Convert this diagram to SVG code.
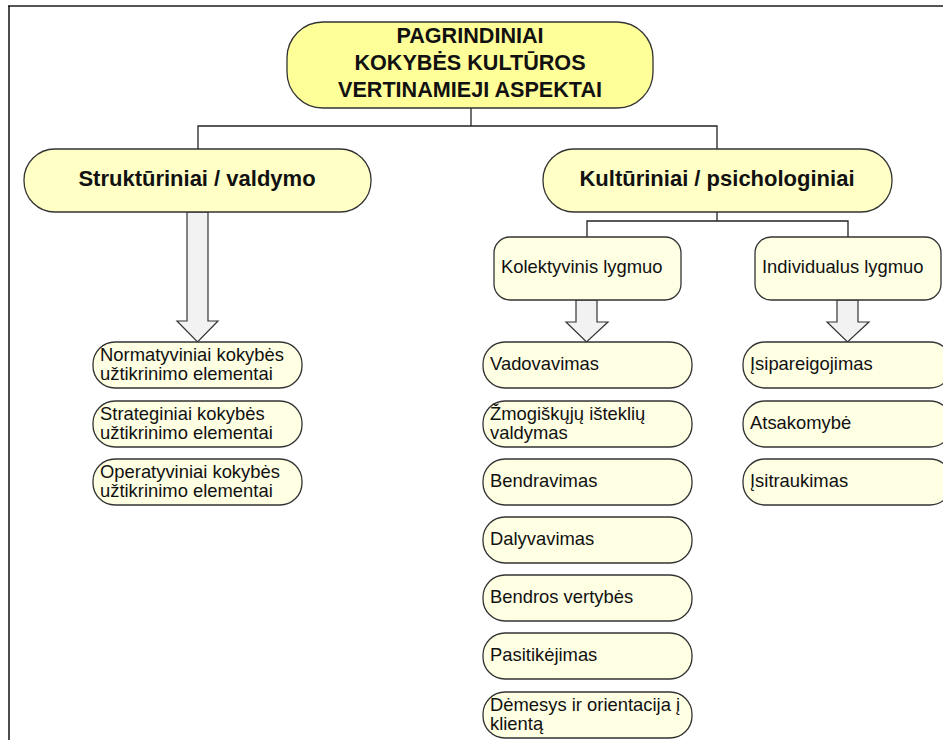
<svg xmlns="http://www.w3.org/2000/svg" width="943" height="740" viewBox="0 0 943 740">
  <style>
    .frame-top { stroke: #555555; stroke-width: 2; fill: none; }
    .frame-left { stroke: #111111; stroke-width: 1.5; fill: none; }
    .box { stroke: #333333; stroke-width: 1.3; }
    .root { fill: #FFFF99; }
    .branch { fill: #FFFFC6; }
    .leaf { fill: #FFFFE3; }
    .line { stroke: #222222; stroke-width: 1.3; fill: none; }
    .arrow { fill: #F2F2F2; stroke: #333333; stroke-width: 1.2; }
    text { font-family: "Liberation Sans", Arial, sans-serif; fill: #111111; }
    .t-root { font-size: 21.6px; font-weight: bold; text-anchor: middle; }
    .t-branch { font-size: 22px; font-weight: bold; text-anchor: middle; }
    .t-item { font-size: 18.4px; }
  </style>

  <rect width="943" height="740" fill="#ffffff"/>

  <!-- page frame -->
  <line class="frame-top" x1="8" y1="6" x2="943" y2="6"/>
  <line class="frame-left" x1="9" y1="6" x2="9" y2="740"/>

  <!-- connectors -->
  <g id="connectors">
    <polyline class="line" points="471,108 471,126"/>
    <polyline class="line" points="198,150 198,126 717,126 717,150"/>
    <polyline class="line" points="717,212 717,221"/>
    <polyline class="line" points="587,237 587,221 848,221 848,237"/>
    <polygon class="arrow" points="187,212 208,212 208,321 218,321 197.5,342 177,321 187,321"/>
    <polygon class="arrow" points="576,300 597,300 597,322 608,322 586.5,342 566,322 576,322"/>
    <polygon class="arrow" points="837,300 858,300 858,322 869,322 847.5,342 827,322 837,322"/>
  </g>

  <!-- root -->
  <g id="node-root">
    <rect class="box root" x="287" y="22" width="366" height="86" rx="36" ry="36"/>
    <text class="t-root" x="470" y="43">PAGRINDINIAI</text>
    <text class="t-root" x="470" y="70">KOKYBĖS KULTŪROS</text>
    <text class="t-root" x="470" y="97">VERTINAMIEJI ASPEKTAI</text>
  </g>

  <!-- second level -->
  <g id="node-strukturiniai">
    <rect class="box branch" x="24" y="149" width="347" height="63" rx="31" ry="31"/>
    <text class="t-branch" x="197" y="186">Struktūriniai / valdymo</text>
  </g>
  <g id="node-kulturiniai">
    <rect class="box branch" x="543" y="149" width="349" height="63" rx="31" ry="31"/>
    <text class="t-branch" x="717" y="186">Kultūriniai / psichologiniai</text>
  </g>

  <!-- third level -->
  <g id="node-kolektyvinis">
    <rect class="box leaf" x="494" y="237" width="187" height="63" rx="16" ry="16"/>
    <text class="t-item" x="501" y="273">Kolektyvinis lygmuo</text>
  </g>
  <g id="node-individualus">
    <rect class="box leaf" x="755" y="237" width="186" height="63" rx="16" ry="16"/>
    <text class="t-item" x="762" y="273">Individualus lygmuo</text>
  </g>

  <!-- structural elements -->
  <g id="node-normatyviniai">
    <rect class="box leaf" x="93" y="342" width="209" height="46" rx="22" ry="22"/>
    <text class="t-item" x="100" y="361">Normatyviniai kokybės</text>
    <text class="t-item" x="100" y="380">užtikrinimo elementai</text>
  </g>
  <g id="node-strateginiai">
    <rect class="box leaf" x="93" y="401" width="209" height="46" rx="22" ry="22"/>
    <text class="t-item" x="100" y="420">Strateginiai kokybės</text>
    <text class="t-item" x="100" y="439">užtikrinimo elementai</text>
  </g>
  <g id="node-operatyviniai">
    <rect class="box leaf" x="93" y="459" width="209" height="46" rx="22" ry="22"/>
    <text class="t-item" x="100" y="478">Operatyviniai kokybės</text>
    <text class="t-item" x="100" y="497">užtikrinimo elementai</text>
  </g>

  <!-- collective level -->
  <g id="node-vadovavimas">
    <rect class="box leaf" x="483" y="342" width="209" height="46" rx="22" ry="22"/>
    <text class="t-item" x="490" y="370">Vadovavimas</text>
  </g>
  <g id="node-zmogiskuju">
    <rect class="box leaf" x="483" y="401" width="209" height="46" rx="22" ry="22"/>
    <text class="t-item" x="490" y="420">Žmogiškųjų išteklių</text>
    <text class="t-item" x="490" y="439">valdymas</text>
  </g>
  <g id="node-bendravimas">
    <rect class="box leaf" x="483" y="459" width="209" height="46" rx="22" ry="22"/>
    <text class="t-item" x="490" y="487">Bendravimas</text>
  </g>
  <g id="node-dalyvavimas">
    <rect class="box leaf" x="483" y="517" width="209" height="46" rx="22" ry="22"/>
    <text class="t-item" x="490" y="545">Dalyvavimas</text>
  </g>
  <g id="node-vertybes">
    <rect class="box leaf" x="483" y="575" width="209" height="46" rx="22" ry="22"/>
    <text class="t-item" x="490" y="603">Bendros vertybės</text>
  </g>
  <g id="node-pasitikejimas">
    <rect class="box leaf" x="483" y="633" width="209" height="46" rx="22" ry="22"/>
    <text class="t-item" x="490" y="661">Pasitikėjimas</text>
  </g>
  <g id="node-demesys">
    <rect class="box leaf" x="483" y="692" width="209" height="46" rx="22" ry="22"/>
    <text class="t-item" x="490" y="711">Dėmesys ir orientacija į</text>
    <text class="t-item" x="490" y="730">klientą</text>
  </g>

  <!-- individual level -->
  <g id="node-isipareigojimas">
    <rect class="box leaf" x="743" y="342" width="209" height="46" rx="22" ry="22"/>
    <text class="t-item" x="750" y="370">Įsipareigojimas</text>
  </g>
  <g id="node-atsakomybe">
    <rect class="box leaf" x="743" y="401" width="209" height="46" rx="22" ry="22"/>
    <text class="t-item" x="750" y="429">Atsakomybė</text>
  </g>
  <g id="node-isitraukimas">
    <rect class="box leaf" x="743" y="459" width="209" height="46" rx="22" ry="22"/>
    <text class="t-item" x="750" y="487">Įsitraukimas</text>
  </g>
</svg>
